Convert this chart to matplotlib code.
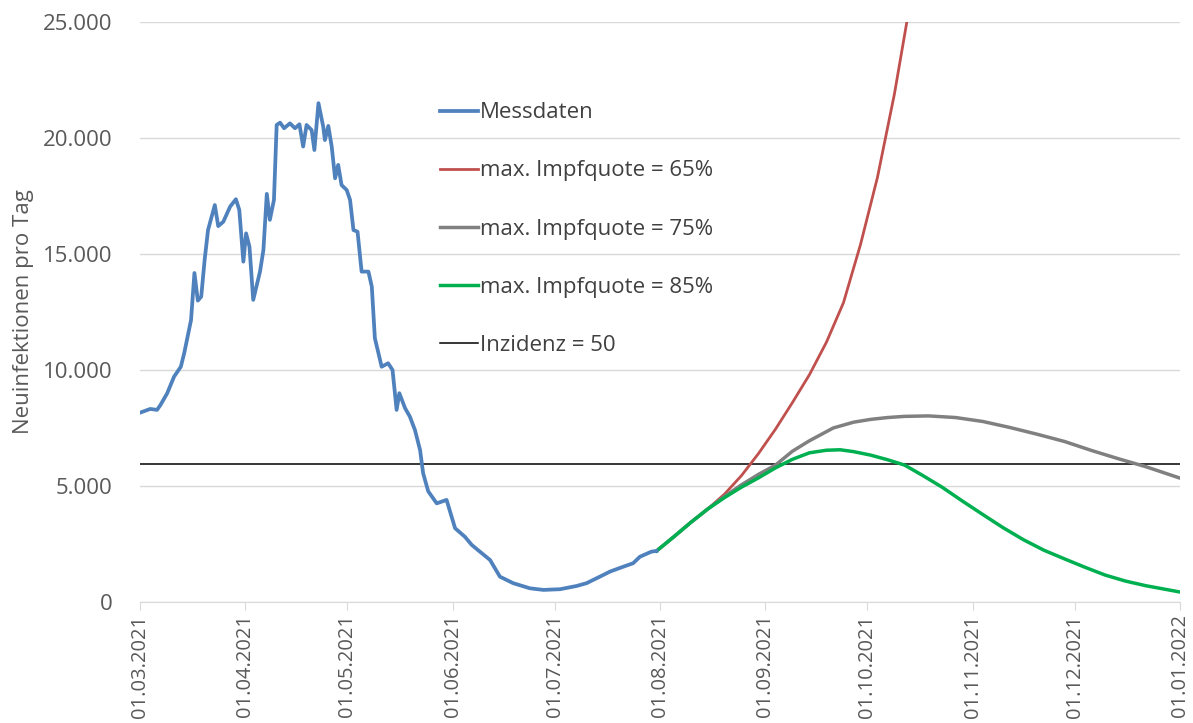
import numpy as np
import pandas as pd
import matplotlib
matplotlib.use("Agg")
import matplotlib.pyplot as plt
import matplotlib.dates as mdates
from matplotlib.ticker import FuncFormatter, MultipleLocator

start = pd.Timestamp("2021-03-01")

# Messdaten (days since 01.03.2021, new infections per day)
mess_days = [0, 3, 5, 6, 8, 10, 12, 13, 15, 16, 17, 18, 19, 20, 22, 23, 24.5, 26.5, 28.2, 29.2,
             30.4, 31.2, 32.2, 33.3, 35.3, 36.3, 37.3, 38.2, 39.4, 40.2, 41.2, 42.4, 44.1, 45.6,
             46.9, 48, 49, 50.5, 51.3, 52.5, 53.9, 54.4, 55.4, 56.4, 57.4, 58.3, 59.3, 60.8, 61.8,
             62.8, 64, 65.2, 67.2, 68.2, 69.1, 71.1, 73, 74.3, 75.5, 76.3, 78, 79.4, 80.9, 82.4,
             83.3, 84.8, 87.3, 90.2, 92.7, 95.6, 97.6, 100, 103, 105.9, 109.8, 114.7, 118.7, 123.6,
             128.5, 131.4, 135.3, 138.3, 142.2, 145.1, 147.1, 150.5, 152]
mess_vals = [8160, 8320, 8280, 8490, 9000, 9710, 10140, 10730, 12150, 14180, 12990, 13160, 14740,
             16030, 17110, 16200, 16390, 17040, 17360, 16900, 14670, 15890, 15310, 13020, 14240,
             15170, 17590, 16470, 17330, 20560, 20660, 20420, 20630, 20420, 20590, 19630, 20560,
             20340, 19480, 21500, 20490, 19910, 20520, 19630, 18260, 18840, 17970, 17760, 17330,
             16030, 15960, 14240, 14240, 13590, 11370, 10140, 10290, 10000, 8280, 9000, 8350,
             7990, 7410, 6550, 5550, 4770, 4250, 4400, 3180, 2810, 2460, 2170, 1810, 1090, 810,
             590, 520, 550, 690, 810, 1090, 1310, 1520, 1670, 1950, 2170, 2200]

# Prognosen
q65_days = [152, 157, 162, 167, 172, 177, 182, 187, 192, 197, 202, 207, 212, 217, 222, 226, 229]
q65_vals = [2200, 2800, 3420, 4000, 4650, 5450, 6400, 7450, 8600, 9800, 11200, 12900, 15400,
            18300, 21900, 25300, 28500]

q75_days = [152, 157, 162, 167, 172, 177, 182, 187, 192, 197, 204, 210, 215, 220, 225, 232,
            240, 248, 256, 264, 272, 280, 288, 296, 306]
q75_vals = [2200, 2800, 3420, 4000, 4550, 5050, 5500, 5900, 6500, 6950, 7500, 7750, 7870, 7950,
            8000, 8020, 7950, 7780, 7520, 7230, 6920, 6530, 6170, 5830, 5340]

q85_days = [152, 157, 162, 167, 172, 177, 182, 187, 192, 197, 202, 206, 210, 215, 220, 225,
            230, 236, 242, 248, 254, 260, 266, 272, 278, 284, 290, 296, 306]
q85_vals = [2200, 2800, 3420, 4000, 4500, 4950, 5350, 5780, 6150, 6430, 6540, 6560, 6480, 6330,
            6130, 5900, 5480, 4950, 4350, 3770, 3200, 2680, 2230, 1860, 1500, 1160, 900, 700, 430]

inzidenz = 5930

series_names = ["Messdaten", "max. Impfquote = 65%", "max. Impfquote = 75%",
                "max. Impfquote = 85%", "Inzidenz = 50"]


def to_dates(days):
    return start + pd.to_timedelta(np.array(days, dtype=float), unit="D")


plt.rcParams['font.family'] = ['Open Sans', 'DejaVu Sans']

fig = plt.figure(figsize=(11.93, 7.23), dpi=100)
ax = fig.add_axes([0.1174, 0.1674, 0.8716, 0.8022])

ax.plot(to_dates(q65_days), q65_vals, color="#c0504d", lw=2.0, label=series_names[1], zorder=3)
ax.plot(to_dates(q75_days), q75_vals, color="#808080", lw=2.5, label=series_names[2], zorder=3)
ax.plot(to_dates(q85_days), q85_vals, color="#00b050", lw=2.5, label=series_names[3], zorder=4)
ax.plot(to_dates(mess_days), mess_vals, color="#4f81bd", lw=2.7, label=series_names[0], zorder=5)
ax.axhline(inzidenz, color="black", lw=1.1, label=series_names[4], zorder=2)

ax.set_xlim(start, pd.Timestamp("2022-01-01"))
ax.set_ylim(0, 25000)

ax.yaxis.set_major_locator(MultipleLocator(5000))
ax.yaxis.set_major_formatter(FuncFormatter(lambda v, p: f"{int(v):,}".replace(",", ".")))
ax.xaxis.set_major_locator(mdates.MonthLocator())
ax.xaxis.set_major_formatter(mdates.DateFormatter("%d.%m.%Y"))

ax.grid(axis="y", color="#d9d9d9", lw=1.0)
ax.set_axisbelow(True)
for s in ["top", "right", "left"]:
    ax.spines[s].set_visible(False)
ax.spines["bottom"].set_color("#d9d9d9")

ax.tick_params(axis="y", length=0, labelsize=16, labelcolor="#595959", pad=20)
ax.tick_params(axis="x", length=6, color="#d9d9d9", labelsize=14.5, labelcolor="#595959",
               rotation=90, pad=3)

ax.set_ylabel("Neuinfektionen pro Tag", fontsize=16, color="#595959", labelpad=6)

handles, labels = ax.get_legend_handles_labels()
order = [3, 0, 1, 2, 4]
leg = ax.legend([handles[i] for i in order], [labels[i] for i in order],
                loc="upper left", bbox_to_anchor=(0.269, 0.896), frameon=False,
                fontsize=16, handlelength=1.7, handletextpad=0.1, labelspacing=1.67)
for t in leg.get_texts():
    t.set_color("#404040")

fig.savefig("out.png", dpi=100)
